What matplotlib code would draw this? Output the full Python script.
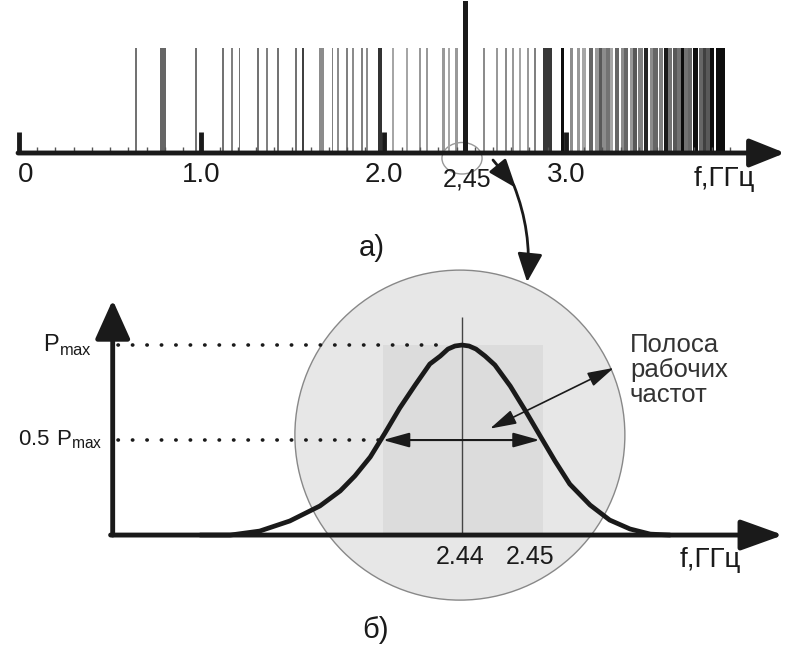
import numpy as np
import matplotlib.pyplot as plt
from matplotlib.patches import Ellipse, Rectangle

plt.rcParams['font.family'] = ['Liberation Sans', 'DejaVu Sans']
plt.rcParams['mathtext.fontset'] = 'custom'
plt.rcParams['mathtext.rm'] = 'Liberation Sans'

# ---- a) spectrum: line frequency (GHz), band width (GHz), line intensity 0..1
line_freq = [0.64, 0.79, 0.97, 1.12, 1.17, 1.21, 1.31, 1.36, 1.42, 1.52, 1.56,
             1.66, 1.72, 1.75, 1.80, 1.83, 1.88, 1.91, 1.98, 2.05, 2.13, 2.20,
             2.24, 2.33, 2.36, 2.40, 2.55, 2.62, 2.67, 2.71, 2.75, 2.79, 2.83,
             2.90, 2.98, 3.03, 3.07, 3.10, 3.14, 3.17, 3.19, 3.21, 3.23, 3.25,
             3.28, 3.31, 3.33, 3.36, 3.38, 3.41, 3.44, 3.47, 3.49, 3.52, 3.55,
             3.57, 3.60, 3.62, 3.64, 3.66, 3.68, 3.71, 3.74, 3.76, 3.78, 3.80,
             3.85]
line_band = [0.010, 0.030, 0.010, 0.010, 0.010, 0.010, 0.010, 0.010, 0.010, 0.012, 0.012,
             0.025, 0.010, 0.010, 0.012, 0.010, 0.012, 0.010, 0.025, 0.010, 0.010, 0.012,
             0.010, 0.015, 0.010, 0.012, 0.015, 0.012, 0.012, 0.010, 0.010, 0.010, 0.015,
             0.050, 0.018, 0.015, 0.015, 0.025, 0.022, 0.020, 0.018, 0.020, 0.020, 0.020,
             0.025, 0.020, 0.022, 0.020, 0.020, 0.025, 0.025, 0.020, 0.025, 0.020, 0.025,
             0.020, 0.025, 0.020, 0.020, 0.020, 0.020, 0.025, 0.020, 0.020, 0.020, 0.025,
             0.050]
line_int = [0.55, 0.60, 0.55, 0.55, 0.50, 0.55, 0.55, 0.50, 0.55, 0.55, 0.75,
            0.45, 0.50, 0.45, 0.50, 0.45, 0.50, 0.45, 0.80, 0.35, 0.35, 0.40,
            0.40, 0.40, 0.35, 0.40, 0.45, 0.40, 0.45, 0.40, 0.35, 0.40, 0.50,
            0.78, 0.95, 0.45, 0.40, 0.35, 0.60, 0.40, 0.65, 0.45, 0.55, 0.35,
            0.60, 0.45, 0.60, 0.40, 0.65, 0.50, 0.85, 0.45, 0.60, 0.50, 0.90,
            0.55, 0.65, 0.55, 0.95, 0.55, 0.60, 0.95, 0.60, 0.75, 0.65, 0.95,
            0.95]
f_work = 2.45
major_ticks = [0.0, 1.0, 2.0, 3.0]
major_labels = ['0', '1.0', '2.0', '3.0']

# ---- б) resonance curve P(f)/Pmax
curve_f = [2.4026, 2.4069, 2.4111, 2.4154, 2.4197, 2.4226, 2.4247, 2.4269,
           2.4290, 2.4311, 2.4333, 2.4354, 2.4369, 2.4380, 2.4390, 2.4400,
           2.4410, 2.4420, 2.4433, 2.4447, 2.4469, 2.4490, 2.4511, 2.4533,
           2.4554, 2.4583, 2.4611, 2.4640, 2.4669, 2.4697]
curve_p = [0.000, 0.000, 0.021, 0.074, 0.153, 0.232, 0.311, 0.411,
           0.537, 0.668, 0.789, 0.900, 0.942, 0.979, 0.995, 1.000,
           0.995, 0.979, 0.942, 0.895, 0.784, 0.658, 0.526, 0.389,
           0.268, 0.158, 0.079, 0.032, 0.005, 0.000]
f_center = 2.44
band_lo, band_hi = 2.4287, 2.4511
p_levels = [1.0, 0.5]
b_ticks = [2.44, 2.45]

ink = '#1a1a1a'
fig = plt.figure(figsize=(7.86, 6.5), dpi=100)
axt = fig.add_axes([0, 0, 1, 1])
axb = fig.add_axes([0, 0, 1, 1])
for ax in (axt, axb):
    ax.set_axis_off()
    ax.patch.set_alpha(0)
axt.set_xlim(-0.104, 4.207)
axt.set_ylim(-4.733, 1.457)
axb.set_xlim(2.374, 2.48629)
axb.set_ylim(-0.605, 2.816)

# ---------- a)
axt.bar(line_freq, 1.0, width=line_band, bottom=0,
        color=[str(1 - v) for v in line_int], linewidth=0, zorder=2)
axt.bar([f_work], 1.45, width=0.028, bottom=0, color=ink, linewidth=0, zorder=3)
minor = np.arange(0.1, 3.95, 0.1)
axt.vlines(minor, 0, 0.06, color='#555555', lw=1.0, zorder=2)
axt.vlines(major_ticks, 0, 0.2, color=ink, lw=3.5, zorder=4)
axt.annotate('', xy=(4.202, 0), xytext=(-0.005, 0),
             arrowprops=dict(arrowstyle='-|>,head_length=0.9,head_width=0.36',
                             mutation_scale=24, lw=3.5, color=ink,
                             shrinkA=0, shrinkB=0), zorder=5)
axt.add_patch(Ellipse((f_work - 0.02, -0.05), 0.22, 0.3, fill=False,
                      edgecolor='#999999', lw=1.0, zorder=1))
lab_kw = dict(fontsize=20, color=ink, va='center')
axt.text(-0.005, -0.21, major_labels[0], ha='left', **lab_kw)
for t, s in zip(major_ticks[1:], major_labels[1:]):
    axt.text(t, -0.21, s, ha='center', **lab_kw)
axt.text(f_work + 0.005, -0.25, '2,45', ha='center', fontsize=18, color=ink, va='center')
axt.text(3.867, -0.25, 'f,ГГц', ha='center', **lab_kw)
axt.text(1.936, -0.905, 'а)', ha='center', fontsize=21, color=ink, va='center')

# curved pointer from a) to б)
axt.annotate('', xy=(2.726, -0.333), xytext=(2.600, -0.067),
             arrowprops=dict(arrowstyle='-|>,head_length=0.8,head_width=0.3',
                             mutation_scale=22, lw=2, color=ink,
                             shrinkA=0, shrinkB=0))
axt.annotate('', xy=(2.787, -1.229), xytext=(2.715, -0.31),
             arrowprops=dict(arrowstyle='-|>,head_length=0.8,head_width=0.35',
                             mutation_scale=22, lw=2, color=ink,
                             connectionstyle='arc3,rad=-0.12',
                             shrinkA=0, shrinkB=0))

# ---------- б)
circ = Ellipse((2.4397, 0.526), 330 / 7000, 330 / 190, facecolor='#e7e7e7',
               edgecolor='#888888', lw=1.0, zorder=1)
axb.add_patch(circ)
rect = Rectangle((band_lo, 0), 0.0229, 1.0, facecolor='#dcdcdc', lw=0, zorder=1)
axb.add_patch(rect)
rect.set_clip_path(circ)

f_axis = 2.3901
axb.annotate('', xy=(2.48590, 0), xytext=(f_axis - 0.0003, 0),
             arrowprops=dict(arrowstyle='-|>,head_length=1.0,head_width=0.36',
                             mutation_scale=26, lw=3.5, color=ink,
                             shrinkA=0, shrinkB=0), zorder=5)
axb.annotate('', xy=(f_axis, 1.237), xytext=(f_axis, 0),
             arrowprops=dict(arrowstyle='-|>,head_length=1.0,head_width=0.45',
                             mutation_scale=24, lw=3.5, color=ink,
                             shrinkA=0, shrinkB=0), zorder=5)
axb.plot(curve_f, curve_p, color=ink, lw=3.4, solid_capstyle='round',
         solid_joinstyle='round', zorder=4)
axb.vlines(f_center, 0, 1.147, color='#444444', lw=1.0, zorder=3)
dot = dict(color=ink, lw=2.6, ls=(0, (0.1, 3.9)), dash_capstyle='round', zorder=3)
axb.plot([f_axis + 0.0008, 2.4375], [p_levels[0]] * 2, **dot)
axb.plot([f_axis + 0.0008, band_lo], [p_levels[1]] * 2, **dot)
axb.annotate('', xy=(band_lo, 0.5), xytext=(band_hi, 0.5),
             arrowprops=dict(arrowstyle='<|-|>,head_length=0.9,head_width=0.25',
                             mutation_scale=18, lw=1.5, color=ink,
                             shrinkA=0, shrinkB=0), zorder=5)
axb.annotate('', xy=(2.4440, 0.56), xytext=(2.4617, 0.88),
             arrowprops=dict(arrowstyle='<|-|>,head_length=0.9,head_width=0.25',
                             mutation_scale=18, lw=1.2, color=ink,
                             shrinkA=0, shrinkB=0), zorder=5)

axb.text(2.4640, 1.063, 'Полоса\nрабочих\nчастот', ha='left', va='top',
         fontsize=18.5, color='#333333', linespacing=1.05)
axb.text(2.38714, 1.0, r'$\mathrm{P}_{\mathrm{max}}$', ha='right', va='center',
         fontsize=17, color=ink)
axb.text(2.38857, 0.5, r'$\mathrm{0.5\ P}_{\mathrm{max}}$', ha='right', va='center',
         fontsize=16, color=ink)
for t in b_ticks:
    axb.text(t - 0.0003, -0.116, f'{t:.2f}', ha='center', va='center',
             fontsize=18, color=ink)
axb.text(2.47543, -0.13, 'f,ГГц', ha='center', va='center', fontsize=20, color=ink)
axb.text(2.4276, -0.5, 'б)', ha='center', va='center', fontsize=21, color=ink)

fig.savefig('out.png', dpi=100)
